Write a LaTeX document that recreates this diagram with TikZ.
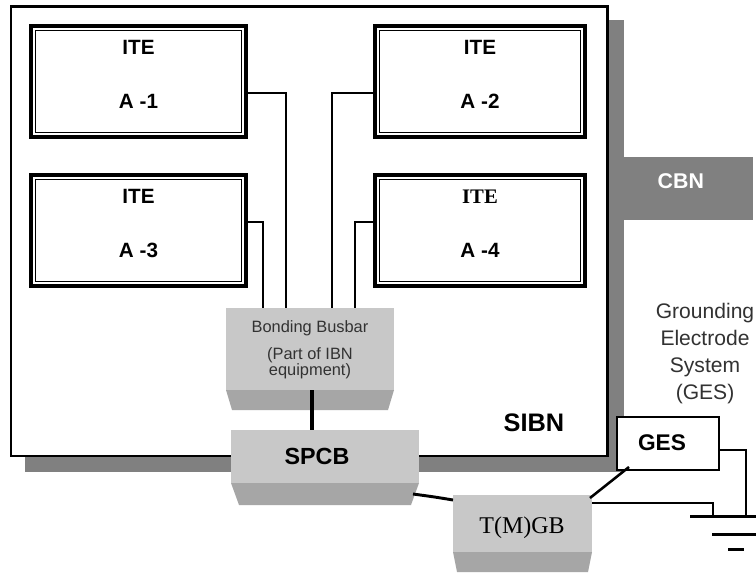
\documentclass[tikz,border=0pt]{standalone}
\usepackage{fontspec}
\setmainfont{Liberation Sans}
\newfontfamily\seriffam{Liberation Serif}
\usetikzlibrary{calc,fit}
\definecolor{shadowgray}{RGB}{128,128,128}
\definecolor{facelight}{RGB}{200,200,200}
\definecolor{facedark}{RGB}{166,166,166}
\definecolor{textgray}{RGB}{50,50,50}
\begin{document}
\begin{tikzpicture}[x=0.75pt,y=-0.75pt, outer sep=0pt,
  itebox/.style={draw, line width=2.4pt, fill=white, inner sep=0pt, outer sep=0pt, align=center,
     font=\bfseries\fontsize{15.5}{18}\selectfont},
  face/.style={fill=facelight, inner sep=0pt},
  wireline/.style={line width=1.5pt},
  gndline/.style={line width=2.25pt},
  boldlbl/.style={font=\bfseries\fontsize{#1}{#1}\selectfont, inner sep=0pt}
]
\useasboundingbox (0,0) rectangle (756,575);
\clip (0,0) rectangle (756,575);
\fill[white] (0,0) rectangle (756,575);

% shadow and frame
\fill[shadowgray] (25,20) rectangle (624,472);
\node[fit={(11,6.5)(607.5,456)}, draw, line width=2.1pt, fill=white, inner sep=0pt] (sibn) {};
% CBN bar
\node[fit={(622,157)(753,220)}, fill=shadowgray, inner sep=0pt, text=white,
      font=\bfseries\fontsize{16}{16}\selectfont] (cbn) {\hspace*{-10pt}CBN};

% ITE boxes
\node[itebox, fit={(31,26)(246,137)}] (a1) {ITE\\[23pt]A -1};
\node[itebox, fit={(375,26)(585,137)}] (a2) {ITE\\[23pt]A -2};
\node[itebox, fit={(31,175)(246,286)}] (a3) {ITE\\[23pt]A -3};
\node[itebox, fit={(375,175)(585,286)}] (a4) {{\seriffam ITE}\\[23pt]A -4};
\foreach \n in {a1,a2,a3,a4}
  \draw[line width=1.2pt] ($(\n.north west)+(4.5,4.5)$) rectangle ($(\n.south east)+(-4.5,-4.5)$);

% Bonding busbar
\node[face, fit={(226,308)(394,390)}] (bb) {};
\fill[facedark] (bb.south west) -- (bb.south east) -- ($(bb.south east)+(-6,20)$) -- ($(bb.south west)+(6,20)$) -- cycle;
\node[align=center, text=textgray, font=\fontsize{12.3}{12}\selectfont] (bbt) at (310,350)
  {Bonding Busbar\\[8pt](Part of IBN\\equipment)};

% wires from ITE to busbar
\draw[wireline] ($(a1.east)+(0,11.5)$) -| ($(bb.north)+(-24.5,0)$);
\draw[wireline] ($(a3.east)+(0,-8.5)$) -| ($(bb.north)+(-47,0)$);
\draw[wireline] ($(a2.west)+(0,11.5)$) -| ($(bb.north)+(21.5,0)$);
\draw[wireline] ($(a4.west)+(0,-8.5)$) -| ($(bb.north)+(45,0)$);

% SPCB
\node[face, fit={(231,430)(419,483)}] (spcb) {};
\fill[facedark] (spcb.south west) -- (spcb.south east) -- ($(spcb.south east)+(-8,22)$) -- ($(spcb.south west)+(8,22)$) -- cycle;
\node[boldlbl=17.5] (spcbt) at (317,456) {SPCB};
\path ($(bb.south)+(2,0)$) coordinate (bbs);
\draw[line width=3pt] (bbs) -- (bbs |- spcb.north);

% SIBN label
\node[boldlbl=19] (sibnt) at (534,423) {SIBN};

% T(M)GB
\node[face, fit={(453,495)(592,552)}] (tmgb) {};
\fill[facedark] (tmgb.south west) -- (tmgb.south east) -- ($(tmgb.south east)+(-4,20)$) -- ($(tmgb.south west)+(4,20)$) -- cycle;
\node[font=\seriffam\fontsize{18}{18}\selectfont, inner sep=0pt] (tmgbt) at (522,528) {T(M)GB};
\draw[line width=2.2pt] ($(spcb.south east)+(-6,11)$) .. controls ($(spcb.south east)+(16,14)$) .. ($(tmgb.north west)+(0,5)$);

% GES
\node[fit={(617,417)(719,470)}, draw, line width=1pt, fill=white, inner sep=0pt] (ges) {};
\node[boldlbl=17] (gest) at (662,443) {GES};
\draw[line width=1.9pt] ($(tmgb.north east)+(-2,3)$) -- ($(ges.south west)+(12,-3)$);

\node[align=center, text=textgray, font=\fontsize{15.8}{20.25}\selectfont] (gtext) at (705,354)
  {Grounding\\Electrode\\System\\(GES)};

% ground symbol
\coordinate (gnd) at (736,516);
\draw[gndline] ($(gnd)+(-46,0)$) -- ($(gnd)+(46,0)$);
\draw[gndline] ($(gnd)+(-24,18)$) -- ($(gnd)+(24,18)$);
\draw[gndline] ($(gnd)+(-8,33)$) -- ($(gnd)+(8,33)$);
\draw[wireline] ($(tmgb.north east)+(0,8)$) -| ($(gnd)+(-23,0)$);
\draw[wireline] ($(ges.east)+(0,6.5)$) -| ($(gnd)+(10,0)$);
\end{tikzpicture}
\end{document}
